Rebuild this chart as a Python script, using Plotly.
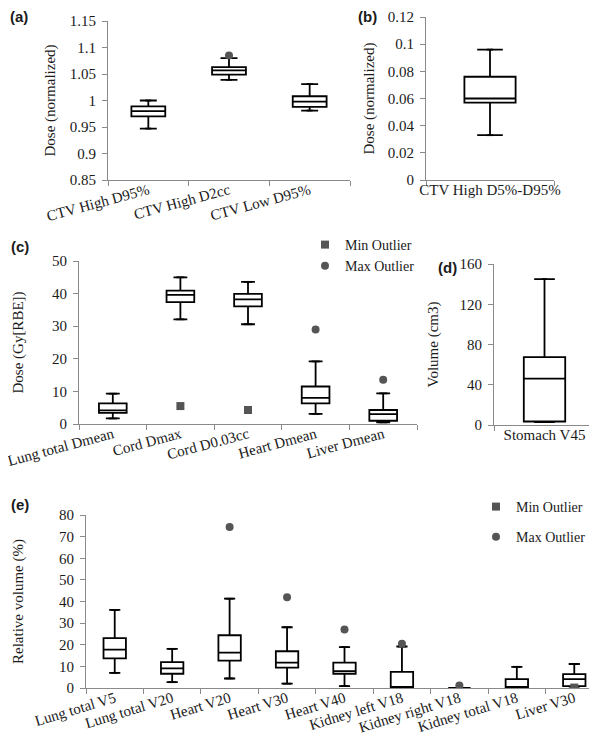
import plotly.graph_objects as go

# ---------------- data ----------------
# Panel (a)
a_cats = ["CTV High D95%", "CTV High D2cc", "CTV Low D95%"]
a_low = [0.947, 1.039, 0.981]
a_q1 = [0.970, 1.049, 0.988]
a_med = [0.980, 1.057, 0.998]
a_q3 = [0.989, 1.063, 1.008]
a_high = [1.000, 1.080, 1.031]
a_max_out = [None, 1.085, None]
a_tickvals = [0.85, 0.9, 0.95, 1.0, 1.05, 1.1, 1.15]
a_ticktext = ["0.85", "0.9", "0.95", "1", "1.05", "1.1", "1.15"]

# Panel (b)
b_cats = ["CTV High D5%-D95%"]
b_low = [0.033]
b_q1 = [0.057]
b_med = [0.060]
b_q3 = [0.076]
b_high = [0.096]
b_tickvals = [0, 0.02, 0.04, 0.06, 0.08, 0.1, 0.12]
b_ticktext = ["0", "0.02", "0.04", "0.06", "0.08", "0.1", "0.12"]

# Panel (c)
c_cats = ["Lung total Dmean", "Cord Dmax", "Cord D0.03cc", "Heart Dmean", "Liver Dmean"]
c_low = [1.7, 32.1, 30.6, 3.1, 0.5]
c_q1 = [3.4, 37.4, 36.1, 6.3, 1.0]
c_med = [4.2, 39.6, 38.2, 8.0, 3.0]
c_q3 = [6.3, 40.9, 39.9, 11.5, 4.3]
c_high = [9.3, 45.0, 43.6, 19.2, 9.4]
c_min_out = [None, 5.5, 4.3, None, None]
c_max_out = [None, None, None, 29.0, 13.6]
c_tickvals = [0, 10, 20, 30, 40, 50]

# Panel (d)
d_cats = ["Stomach V45"]
d_low = [3.0]
d_q1 = [3.5]
d_med = [46.0]
d_q3 = [67.5]
d_high = [145.0]
d_tickvals = [0, 40, 80, 120, 160]

# Panel (e)
e_cats = ["Lung total V5", "Lung total V20", "Heart V20", "Heart V30", "Heart V40",
          "Kidney left V18", "Kidney right V18", "Kidney total V18", "Liver V30"]
e_low = [7.0, 2.7, 4.4, 2.0, 0.9, 0.0, 0.0, 0.0, 0.6]
e_q1 = [13.7, 6.6, 12.7, 9.4, 6.6, 0.0, 0.0, 0.0, 0.9]
e_med = [17.7, 9.1, 16.4, 11.7, 7.8, 0.0, 0.0, 0.4, 4.1]
e_q3 = [23.1, 12.0, 24.4, 17.0, 11.7, 7.5, 0.0, 4.1, 6.4]
e_high = [36.1, 18.1, 41.3, 28.1, 18.9, 19.2, 0.0, 9.8, 11.1]
e_min_out = [None, None, None, None, None, None, None, None, 0.2]
e_max_out = [None, None, 74.4, 42.0, 27.0, 20.5, 1.2, None, None]
e_tickvals = [0, 10, 20, 30, 40, 50, 60, 70, 80]

# ---------------- style ----------------
W, H = 597, 736
AX = "#8a8a8a"
SERIF = "Liberation Serif, Times New Roman, serif"
TICKFONT = dict(family=SERIF, size=15, color="#1a1a1a")
OUT_COLOR = "#555555"


def px_x(p):
    return p / W


def px_y(p):
    return 1 - p / H


fig = go.Figure()


def add_panel(k, cats, low, q1, med, q3, high, boxw, capw,
              max_out=None, min_out=None, legend=None):
    xa = "x" if k == 1 else f"x{k}"
    ya = "y" if k == 1 else f"y{k}"
    pos = list(range(len(cats)))
    fig.add_trace(go.Box(
        x=pos, q1=q1, median=med, q3=q3, lowerfence=low, upperfence=high,
        width=boxw, fillcolor="white", line=dict(color="black", width=1.8),
        boxpoints=False, showlegend=False, hoverinfo="skip",
        xaxis=xa, yaxis=ya))
    cx, cy = [], []
    for i in pos:
        for f in (low[i], high[i]):
            if f != q1[i] and f != q3[i]:
                cx += [i - capw / 2, i + capw / 2, None]
                cy += [f, f, None]
    fig.add_trace(go.Scatter(x=cx, y=cy, mode="lines",
                             line=dict(color="black", width=1.8),
                             showlegend=False, hoverinfo="skip",
                             xaxis=xa, yaxis=ya))
    if min_out is not None:
        fig.add_trace(go.Scatter(
            x=[i for i in pos if min_out[i] is not None],
            y=[v for v in min_out if v is not None],
            mode="markers", name="Min Outlier",
            marker=dict(symbol="square", size=8, color=OUT_COLOR),
            showlegend=legend is not None, legend=legend or "legend",
            legendgroup=f"min{k}", xaxis=xa, yaxis=ya))
    if max_out is not None:
        fig.add_trace(go.Scatter(
            x=[i for i in pos if max_out[i] is not None],
            y=[v for v in max_out if v is not None],
            mode="markers", name="Max Outlier",
            marker=dict(symbol="circle", size=8, color=OUT_COLOR),
            showlegend=legend is not None, legend=legend or "legend",
            legendgroup=f"max{k}", xaxis=xa, yaxis=ya))


add_panel(1, a_cats, a_low, a_q1, a_med, a_q3, a_high, 0.42, 0.075, max_out=a_max_out)
add_panel(2, b_cats, b_low, b_q1, b_med, b_q3, b_high, 0.40, 0.05)
add_panel(3, c_cats, c_low, c_q1, c_med, c_q3, c_high, 0.41, 0.12,
          max_out=c_max_out, min_out=c_min_out, legend="legend")
add_panel(4, d_cats, d_low, d_q1, d_med, d_q3, d_high, 0.41, 0.05)
add_panel(5, e_cats, e_low, e_q1, e_med, e_q3, e_high, 0.39, 0.14,
          max_out=e_max_out, min_out=e_min_out, legend="legend2")


def xcfg(x0, x1, anchor, cats, angle, standoff):
    n = len(cats)
    return dict(domain=[px_x(x0), px_x(x1)], anchor=anchor,
                range=[-0.5, n - 0.5], tickmode="array",
                tickvals=list(range(n)), ticktext=cats, ticks="",
                tickangle=angle, tickfont=TICKFONT, automargin=False,
                ticklabelstandoff=standoff, ticklabeloverflow="allow",
                showline=True, linecolor=AX, linewidth=1.2,
                showgrid=False, zeroline=False,
                minor=dict(tickmode="array",
                           tickvals=[i - 0.5 for i in range(n + 1)],
                           ticks="outside", ticklen=5, tickcolor=AX,
                           tickwidth=1, showgrid=False))


def ycfg(ytop, ybot, anchor, rng, tickvals, ticktext, title, tstand):
    return dict(domain=[px_y(ybot), px_y(ytop)], anchor=anchor, range=rng,
                tickmode="array", tickvals=tickvals, ticktext=ticktext,
                ticks="outside", ticklen=5, tickcolor=AX, tickwidth=1,
                tickfont=TICKFONT, showline=True, linecolor=AX, linewidth=1.2,
                ticklabelstandoff=3,
                showgrid=False, zeroline=False, automargin=False,
                title=dict(text=title, standoff=tstand,
                           font=dict(family=SERIF, size=15, color="#1a1a1a")))


LEGFONT = dict(family=SERIF, size=14, color="#1a1a1a")

layout = dict(
    width=W, height=H, margin=dict(l=0, r=0, t=0, b=0, autoexpand=False),
    paper_bgcolor="white", plot_bgcolor="white",
    xaxis=xcfg(100, 342, "y", a_cats, -15, -5),
    yaxis=ycfg(13, 172, "x", [0.85, 1.15], a_tickvals, a_ticktext, "Dose (normalized)", 10),
    xaxis2=xcfg(418, 546, "y2", b_cats, 0, -4),
    yaxis2=ycfg(9, 172, "x2", [0, 0.12], b_tickvals, b_ticktext, "Dose (normalized)", 9),
    xaxis3=xcfg(71, 409, "y3", c_cats, -15, -5),
    yaxis3=ycfg(253, 416, "x3", [0, 50], c_tickvals, [str(v) for v in c_tickvals], "Dose (Gy[RBE])", 24),
    xaxis4=xcfg(486, 587, "y4", d_cats, 0, -4),
    yaxis4=ycfg(256, 417, "x4", [0, 160], d_tickvals, [str(v) for v in d_tickvals], "Volume (cm3)", 17),
    xaxis5=xcfg(78, 595, "y5", e_cats, -17, -5),
    yaxis5=ycfg(507, 680, "x5", [0, 80], e_tickvals, [str(v) for v in e_tickvals], "Relative volume (%)", 31),
    legend=dict(x=px_x(297), y=px_y(221), xanchor="left", yanchor="top",
                bgcolor="rgba(0,0,0,0)", font=LEGFONT,
                itemwidth=30, tracegroupgap=0),
    legend2=dict(x=px_x(468), y=px_y(483), xanchor="left", yanchor="top",
                 bgcolor="rgba(0,0,0,0)", font=LEGFONT,
                 itemwidth=30, tracegroupgap=9),
    showlegend=True,
)
fig.update_layout(**layout)

labels = [("(a)", 0, 9), ("(b)", 348, 9), ("(c)", 1, 239), ("(d)", 428, 259), ("(e)", 1, 496)]
for t, x, y in labels:
    fig.add_annotation(text=f"<b>{t}</b>", x=px_x(x), y=px_y(y), xref="paper", yref="paper",
                       xanchor="left", yanchor="middle", showarrow=False,
                       font=dict(family="Liberation Sans, Arial, sans-serif", size=15, color="#1a1a1a"))

fig.write_html("out.html")
